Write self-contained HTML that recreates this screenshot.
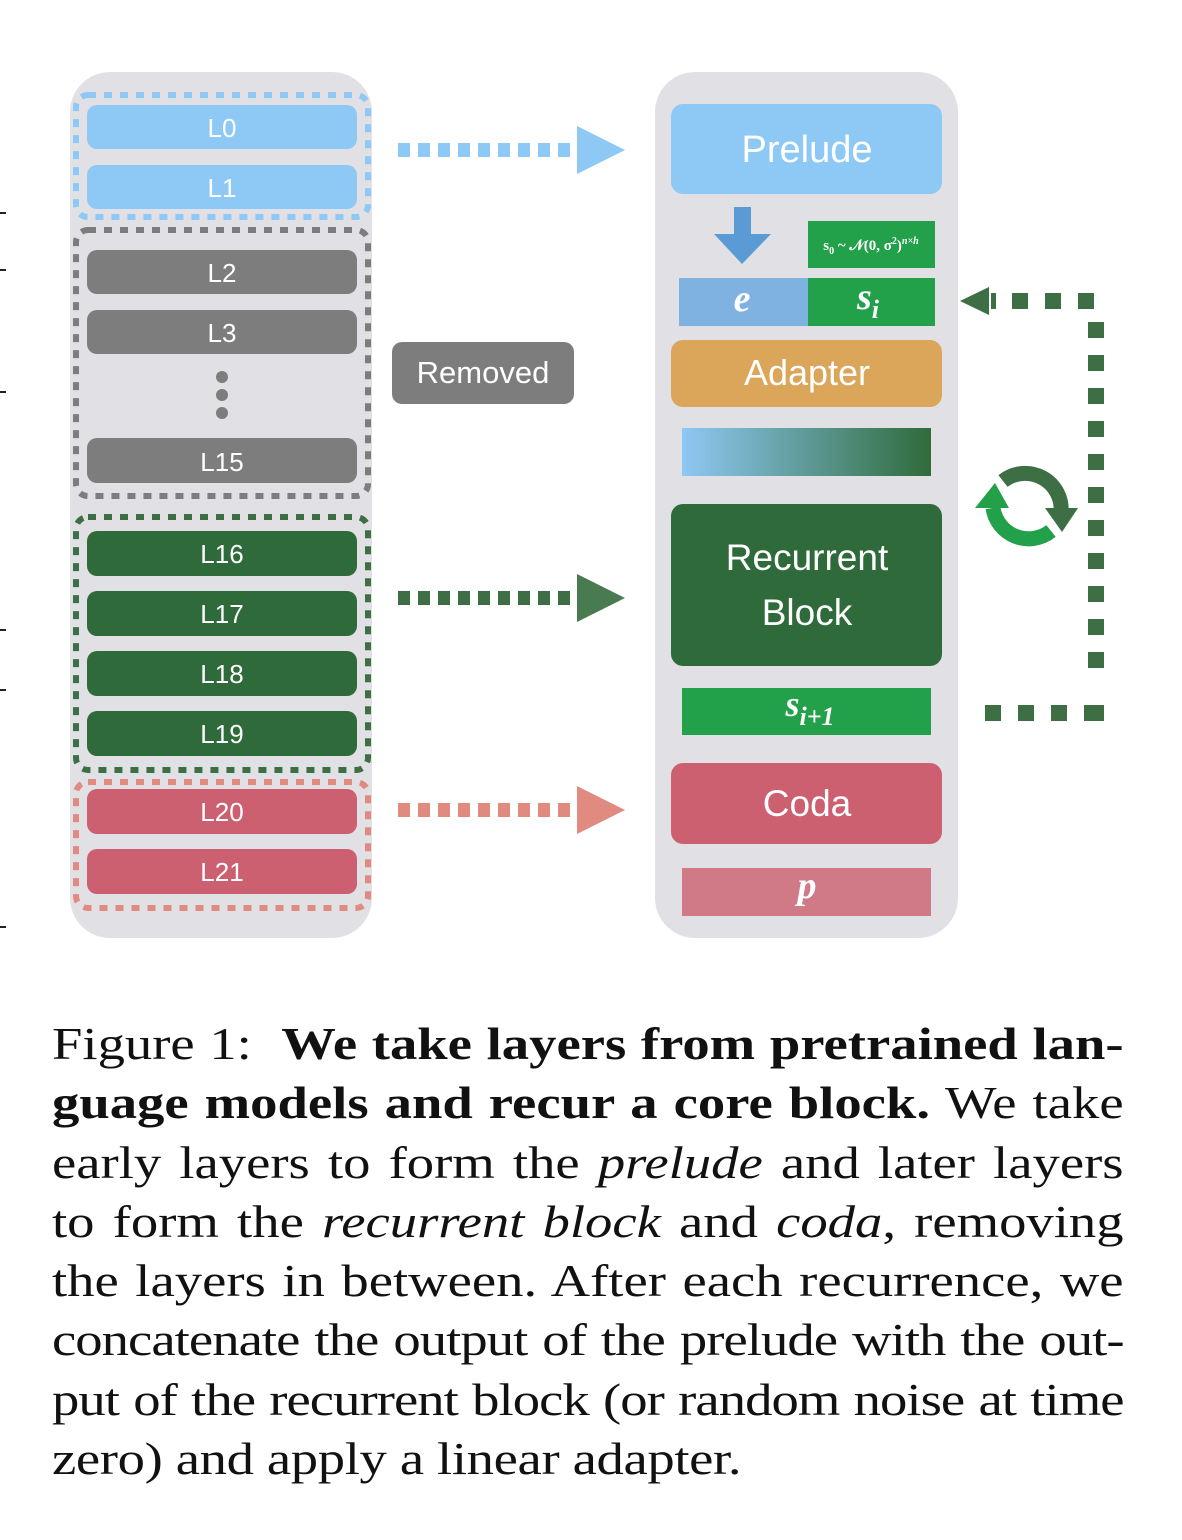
<!DOCTYPE html>
<html><head><meta charset="utf-8"><style>
body{margin:0;background:#fff;width:1182px;height:1540px;position:relative;overflow:hidden}
svg{position:absolute;left:0;top:0}
.cap{position:absolute;left:52px;width:902px;font-family:"Liberation Serif",serif;font-size:46px;color:#111;transform:scaleX(1.188);transform-origin:0 0}
.cap div{height:59.3px;line-height:59.3px;text-align:justify;text-align-last:justify;white-space:nowrap}
.cap div.last{text-align-last:left;letter-spacing:-0.3px}
.cap div.t{letter-spacing:-0.8px}
</style></head><body>
<svg width="1182" height="1000" viewBox="0 0 1182 1000" font-family="Liberation Sans, DejaVu Sans, sans-serif">
<g fill="#222"><rect x="0" y="212" width="6" height="2"/><rect x="0" y="269" width="6" height="2"/><rect x="0" y="391" width="6" height="2"/><rect x="0" y="629" width="6" height="2"/><rect x="0" y="689" width="6" height="2"/><rect x="0" y="926" width="6" height="2"/></g>
<rect x="70" y="72" width="302" height="866" rx="40" fill="#e1e1e5"/>
<rect x="655" y="72" width="303" height="866" rx="40" fill="#e1e1e5"/>
<g fill="none" stroke-width="6" stroke-dasharray="8 8">
<rect x="76" y="95" width="292" height="122" rx="12" stroke="#8ec8f4"/>
<rect x="76" y="230" width="292" height="266" rx="12" stroke="#7d7d7d"/>
<rect x="76" y="517" width="292" height="253" rx="12" stroke="#3d6e44"/>
<rect x="76" y="782" width="292" height="126" rx="12" stroke="#e08a80"/>
</g>
<g font-size="26" fill="#fff" text-anchor="middle">
<rect x="87" y="105" width="270" height="44" rx="10" fill="#8ec8f4"/><text x="222" y="137">L0</text>
<rect x="87" y="165" width="270" height="44" rx="10" fill="#8ec8f4"/><text x="222" y="197">L1</text>
<rect x="87" y="250" width="270" height="44" rx="10" fill="#7d7d7d"/><text x="222" y="282">L2</text>
<rect x="87" y="310" width="270" height="44" rx="10" fill="#7d7d7d"/><text x="222" y="342">L3</text>
<circle cx="222" cy="377" r="6" fill="#7d7d7d"/><circle cx="222" cy="395" r="6" fill="#7d7d7d"/><circle cx="222" cy="413" r="6" fill="#7d7d7d"/>
<rect x="87" y="438" width="270" height="45" rx="10" fill="#7d7d7d"/><text x="222" y="471">L15</text>
<rect x="87" y="531" width="270" height="45" rx="10" fill="#2f6b3a"/><text x="222" y="563">L16</text>
<rect x="87" y="591" width="270" height="45" rx="10" fill="#2f6b3a"/><text x="222" y="623">L17</text>
<rect x="87" y="651" width="270" height="45" rx="10" fill="#2f6b3a"/><text x="222" y="683">L18</text>
<rect x="87" y="711" width="270" height="45" rx="10" fill="#2f6b3a"/><text x="222" y="743">L19</text>
<rect x="87" y="789" width="270" height="45" rx="10" fill="#cd6070"/><text x="222" y="821">L20</text>
<rect x="87" y="849" width="270" height="45" rx="10" fill="#cd6070"/><text x="222" y="881">L21</text>
<rect x="392" y="342" width="182" height="62" rx="10" fill="#7d7d7d"/><text x="483" y="383" font-size="31">Removed</text>
</g>
<g stroke-width="14" stroke-dasharray="12 8">
<line x1="398" y1="150" x2="572" y2="150" stroke="#8ec8f4"/>
<line x1="398" y1="598" x2="572" y2="598" stroke="#3d6e44"/>
<line x1="398" y1="810" x2="572" y2="810" stroke="#e08a80"/>
</g>
<polygon points="577,126 625,150 577,174" fill="#8ec8f4"/>
<polygon points="577,574 625,598 577,622" fill="#4a7a50"/>
<polygon points="577,786 625,810 577,834" fill="#e08a80"/>
<g text-anchor="middle" fill="#fff">
<rect x="671" y="104" width="271" height="90" rx="12" fill="#8ec8f4"/><text x="807" y="162" font-size="38">Prelude</text>
<rect x="734" y="207" width="17" height="28" fill="#5b9bd5"/><polygon points="714,234 771,234 742,264" fill="#5b9bd5"/>
<rect x="808" y="221" width="127" height="47" fill="#22a04a"/>
<text x="871" y="250" font-size="15" font-family="Liberation Serif,serif" font-weight="bold">s<tspan font-size="10" dy="4">0</tspan><tspan dy="-4"> ~ 𝒩(0, σ</tspan><tspan font-size="10" dy="-6">2</tspan><tspan dy="6">)</tspan><tspan font-size="10" dy="-6" font-style="italic">n×h</tspan></text>
<rect x="679" y="278" width="129" height="48" fill="#7fb2e0"/>
<rect x="808" y="278" width="127" height="48" fill="#22a04a"/>
<text x="742" y="311" font-size="38" font-style="italic" font-weight="bold" font-family="Liberation Serif,serif">e</text>
<text x="868" y="309" font-size="38" font-style="italic" font-weight="bold" font-family="Liberation Serif,serif">s<tspan font-size="26" dy="9">i</tspan></text>
<rect x="671" y="340" width="271" height="67" rx="12" fill="#dba55a"/><text x="807" y="385" font-size="36">Adapter</text>
<defs><linearGradient id="g"><stop offset="0" stop-color="#8ec8f4"/><stop offset="1" stop-color="#2f6b3a"/></linearGradient></defs>
<rect x="682" y="428" width="249" height="48" fill="url(#g)"/>
<rect x="671" y="504" width="271" height="162" rx="12" fill="#2f6b3a"/>
<text x="807" y="570" font-size="37">Recurrent</text><text x="807" y="625" font-size="37">Block</text>
<rect x="682" y="688" width="249" height="47" fill="#22a04a"/>
<text x="810" y="716" font-size="36" font-style="italic" font-weight="bold" font-family="Liberation Serif,serif">s<tspan font-size="26" dy="9">i+1</tspan></text>
<rect x="671" y="763" width="271" height="81" rx="12" fill="#cd6070"/><text x="807" y="816" font-size="37">Coda</text>
<rect x="682" y="868" width="249" height="48" fill="#d07a88"/>
<text x="807" y="898" font-size="38" font-style="italic" font-weight="bold" font-family="Liberation Serif,serif">p</text>
</g>
<g fill="#3d6e44">
<rect x="985" y="705" width="16" height="16"/><rect x="1018" y="705" width="16" height="16"/><rect x="1051" y="705" width="16" height="16"/><rect x="1084" y="705" width="20" height="16"/>
<rect x="1088" y="652" width="16" height="16"/><rect x="1088" y="619" width="16" height="16"/><rect x="1088" y="586" width="16" height="16"/><rect x="1088" y="553" width="16" height="16"/><rect x="1088" y="520" width="16" height="16"/><rect x="1088" y="487" width="16" height="16"/><rect x="1088" y="454" width="16" height="16"/><rect x="1088" y="421" width="16" height="16"/><rect x="1088" y="388" width="16" height="16"/><rect x="1088" y="355" width="16" height="16"/><rect x="1088" y="322" width="16" height="16"/>
<rect x="1078" y="293" width="16" height="16"/><rect x="1045" y="293" width="16" height="16"/><rect x="1012" y="293" width="16" height="16"/><rect x="991" y="293" width="5" height="16"/>
<polygon points="960,301 989,287 989,315"/>
</g>
<path d="M1003,481 A36,36 0 0 1 1061,513" fill="none" stroke="#3d6e44" stroke-width="15"/>
<polygon points="1045,508 1078,508 1062,532" fill="#3d6e44"/>
<path d="M1051,531 A36,36 0 0 1 993,508" fill="none" stroke="#22a04a" stroke-width="15"/>
<polygon points="975,508 1009,508 995,483" fill="#22a04a"/>
</svg>
<div class="cap" style="top:1014px">
<div>Figure 1:&nbsp; <b>We take layers from pretrained lan-</b></div>
<div><b>guage models and recur a core block.</b> We take</div>
<div>early layers to form the <i>prelude</i> and later layers</div>
<div>to form the <i>recurrent block</i> and <i>coda</i>, removing</div>
<div>the layers in between. After each recurrence, we</div>
<div class="t">concatenate the output of the prelude with the out-</div>
<div class="t">put of the recurrent block (or random noise at time</div>
<div class="last">zero) and apply a linear adapter.</div>
</div>
</body></html>
